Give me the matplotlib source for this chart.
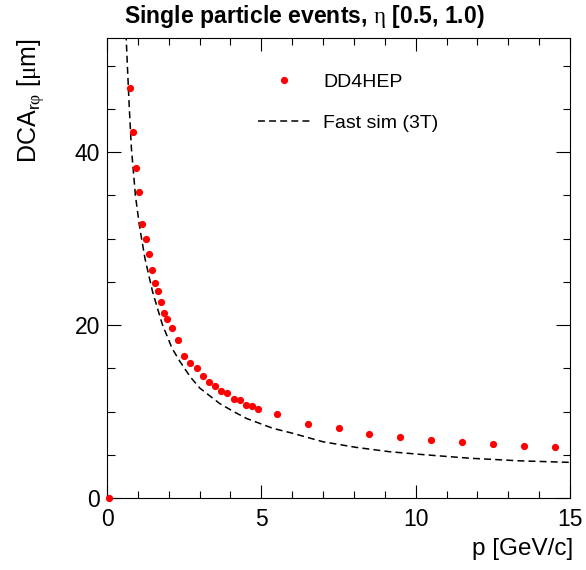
import matplotlib
matplotlib.use('Agg')
import matplotlib.pyplot as plt
from matplotlib.ticker import MultipleLocator

# DD4HEP points (p [GeV/c], DCA_rphi [um])
p_dd4hep = [0.05, 0.75, 0.85, 0.95, 1.05, 1.15, 1.25, 1.35, 1.45, 1.55, 1.65, 1.75,
            1.85, 1.95, 2.1, 2.3, 2.5, 2.7, 2.9, 3.1, 3.3, 3.5, 3.7, 3.9, 4.1, 4.3,
            4.5, 4.7, 4.9, 5.5, 6.5, 7.5, 8.5, 9.5, 10.5, 11.5, 12.5, 13.5, 14.5]
dca_dd4hep = [0.0, 47.4, 42.3, 38.2, 35.4, 31.7, 29.9, 28.2, 26.4, 24.9, 23.9, 22.7,
              21.4, 20.7, 19.7, 18.3, 16.4, 15.6, 15.0, 14.1, 13.4, 12.9, 12.4, 12.1,
              11.4, 11.3, 10.8, 10.6, 10.3, 9.75, 8.55, 8.13, 7.40, 7.05, 6.67, 6.44,
              6.24, 6.05, 5.93]

# Fast sim (3T) curve
p_fastsim = [0.60, 0.66, 0.72, 0.79, 0.92, 1.05, 1.23, 1.48, 1.79, 2.11, 2.36, 2.7,
             3.01, 3.66, 4.1, 4.52, 5.38, 6.0, 7.0, 8.08, 9.16, 10.3, 11.75, 13.37, 15.0]
dca_fastsim = [55.0, 50.0, 45.3, 40.5, 35.0, 31.5, 27.7, 23.8, 20.1, 17.3, 15.8, 14.0,
               12.7, 10.9, 10.0, 9.2, 8.05, 7.5, 6.5, 5.85, 5.35, 5.0, 4.6, 4.3, 4.12]

x_ticks = [0, 5, 10, 15]
y_ticks = [0, 20, 40]

plt.rcParams['font.family'] = ['Liberation Sans', 'DejaVu Sans']
plt.rcParams['mathtext.fontset'] = 'custom'
plt.rcParams['mathtext.rm'] = 'Liberation Sans'
plt.rcParams['mathtext.tt'] = 'Liberation Serif'
plt.rcParams['lines.scale_dashes'] = False

W, H = 586, 570
fig = plt.figure(figsize=(W / 100, H / 100), dpi=100)
ax = fig.add_axes([107 / W, 1 - 498 / H, 463 / W, 460 / H])

fs_line, = ax.plot(p_fastsim, dca_fastsim, color='black', lw=1.1,
                   ls=(0, (5, 3)), label='Fast sim (3T)', zorder=2)
dd_pts, = ax.plot(p_dd4hep, dca_dd4hep, 'o', color='red', ms=5.2, mec='none',
                  label='DD4HEP', zorder=3, clip_on=False)

ax.set_xlim(0, 15)
ax.set_ylim(0, 53.2)
ax.set_xticks(x_ticks)
ax.set_yticks(y_ticks)
ax.xaxis.set_minor_locator(MultipleLocator(1))
ax.yaxis.set_minor_locator(MultipleLocator(5))

ax.tick_params(which='both', direction='in', top=True, right=True, width=0.8,
               labelsize=16.5)
ax.tick_params(axis='x', which='major', length=9.4, pad=7)
ax.tick_params(axis='x', which='minor', length=4.7)
ax.tick_params(axis='y', which='major', length=10, pad=5)
ax.tick_params(axis='y', which='minor', length=5.4)
for s in ax.spines.values():
    s.set_linewidth(0.8)
    s.set_color('black')

ax.set_xlabel('p [GeV/c]', fontsize=17.5, loc='right')
ax.xaxis.set_label_coords(1.008, -0.088)

fig.text(31 / W, 1 - 38 / H, r'DCA$_{\mathrm{r}\mathtt{φ}}$ [$\mathtt{μ}$m]',
         rotation=90, ha='center', va='top', fontsize=18)

fig.text(124 / W, 1 - 17 / H, r'Single particle events, $\mathtt{η}$ [0.5, 1.0)',
         ha='left', va='center', fontsize=16.6, fontweight='bold')

leg = ax.legend(handles=[dd_pts, fs_line], loc='upper left',
                bbox_to_anchor=(258 / W, 1 - 73 / H), bbox_transform=fig.transFigure,
                frameon=False, fontsize=14, handlelength=2.7, handletextpad=0.65,
                labelspacing=1.2, borderpad=0, borderaxespad=0, numpoints=1)

fig.savefig('out.png', dpi=100)
